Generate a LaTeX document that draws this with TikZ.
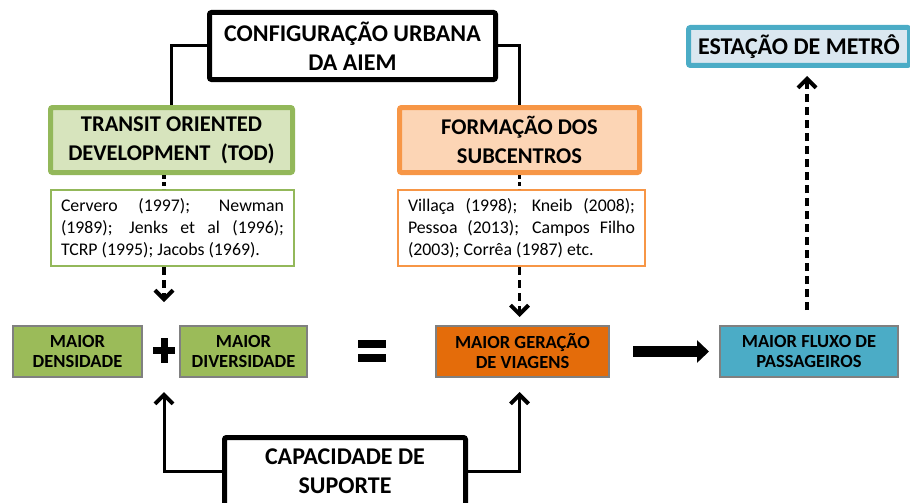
\documentclass[tikz,border=0pt]{standalone}
\usepackage{fontspec}
\setmainfont{Carlito}
\usetikzlibrary{arrows.meta}

\definecolor{tod fill color}{HTML}{D7E4BD}
\definecolor{tod line color}{HTML}{93B85A}
\definecolor{subcentro fill color}{HTML}{FCD5B5}
\definecolor{subcentro line color}{HTML}{F79646}
\definecolor{metro fill color}{HTML}{DAE7F0}
\definecolor{metro line color}{HTML}{4BACC6}
\definecolor{densidade color}{HTML}{9BBB59}
\definecolor{viagens color}{HTML}{E46C0A}
\definecolor{fluxo color}{HTML}{4BACC6}
\definecolor{result line color}{HTML}{808080}

\tikzset{
    x={1pt},
    y={-1pt},
    heading/.style={
        draw=black, fill=white,
        line width={5pt},
        rounded corners={2pt},
        align=center,
        font={\bfseries\fontsize{24}{29}\selectfont},
        inner sep=0pt,
    },
    concept/.style 2 args={
        fill={#1}, draw={#2},
        line width={5pt},
        rounded corners={2pt},
        align=center,
        font={\bfseries\fontsize{22.5}{29}\selectfont},
        inner sep=0pt,
    },
    reference/.style={
        draw={#1}, fill=white,
        line width={2pt},
        align=justify,
        font={\fontsize{17.8}{22}\selectfont},
        inner xsep=10pt, inner ysep=0pt,
        minimum height={76},
    },
    result/.style={
        fill={#1}, draw=result line color,
        line width={2pt},
        align=center,
        font={\bfseries\fontsize{18.5}{20}\selectfont},
        inner sep=0pt,
        minimum height={51},
    },
    link/.style={
        draw=black,
        line width={3pt},
    },
    dashed link/.style={
        link,
        line width={3.5pt},
        dash pattern=on 8pt off 5pt,
    },
    link arrow/.style={
        -{Straight Barb[length=9pt, width=18pt, line width=4pt]},
    },
    big arrow/.style={
        draw=black,
        line width={11pt},
        -{Triangle[length=12pt, width=22pt]},
    },
}

\begin{document}
\begin{tikzpicture}
\useasboundingbox (0,0) rectangle (910,503);
% boxes
\node[heading, minimum width={286}, minimum height={67}] (title) at (352.5,46) {CONFIGURAÇÃO URBANA\\DA AIEM};
\node[concept={tod fill color}{tod line color}, minimum width={242}, minimum height={65}] (tod) at (171.5,140) {TRANSIT ORIENTED\\DEVELOPMENT~~(TOD)};
\node[concept={subcentro fill color}{subcentro line color}, minimum width={240}, minimum height={65}] (form) at (519.5,140) {FORMAÇÃO DOS\\SUBCENTROS};
\node[reference={tod line color}, text width={223}] (ref1) at (172.5,228) {Cervero (1997); Newman\linebreak (1989); Jenks et al (1996);\linebreak TCRP (1995); Jacobs (1969).};
\node[reference={subcentro line color}, text width={227}] (ref2) at (521.5,228) {Villaça (1998); Kneib (2008);\linebreak Pessoa (2013); Campos Filho\linebreak (2003); Corrêa (1987) etc.};
\node[concept={metro fill color}{metro line color}, font={\bfseries\fontsize{24}{26}\selectfont}, minimum width={221}, minimum height={38}] (estacao) at (799,46.5) {ESTAÇÃO DE METRÔ};
\node[result={densidade color}, minimum width={129}] (dens) at (77.5,351.5) {MAIOR\\DENSIDADE};
\node[result={densidade color}, minimum width={127}] (div) at (243.5,351.5) {MAIOR\\DIVERSIDADE};
\node[result={viagens color}, minimum width={173}] (gen) at (522.5,351.5) {MAIOR GERAÇÃO\\DE VIAGENS};
\node[result={fluxo color}, minimum width={178}] (fluxo) at (809,351.5) {MAIOR FLUXO DE\\PASSAGEIROS};
\node[heading, minimum width={241}, minimum height={68}] (cap) at (345,471.5) {CAPACIDADE DE\\SUPORTE};
% operators
\coordinate (plus) at (164,350);
\coordinate (equal) at (371.5,351);
\fill (plus) +(-11,-3.5) rectangle +(11,3.5);
\fill (plus) +(-3.5,-12.5) rectangle +(3.5,12.5);
\fill (equal) +(-14,-11) rectangle +(14,-3);
\fill (equal) +(-14,2.5) rectangle +(14,10.5);
% links
\draw[link] (title.west) -| (tod.north);
\draw[link] (title.east) -| (form.north);
\draw[dashed link, dash pattern=on 4pt off 3pt] (tod.south -| plus) -- (ref1.north -| plus);
\draw[dashed link, dash pattern=on 4pt off 3pt] (form.south) -- (form.south |- ref2.north);
\draw[dashed link, link arrow] (ref1.south -| plus) -- ([yshift=48pt]plus);
\draw[dashed link, link arrow] (ref2.south -| form.south) -- ([yshift=8pt]gen.north -| form.south);
\draw[link, link arrow] (cap.west) -| ([yshift=-42pt]plus);
\draw[link, link arrow] (cap.east) -| ([yshift=-14pt]gen.south -| form.south);
\draw[big arrow, shorten <=23pt, shorten >=10pt] (gen.east) -- (fluxo.west);
\draw[dashed link, link arrow] ([xshift=-2pt,yshift=15pt]fluxo.north) -- ([xshift=-2pt,yshift=-8pt]fluxo.north |- estacao.south);
\end{tikzpicture}
\end{document}
